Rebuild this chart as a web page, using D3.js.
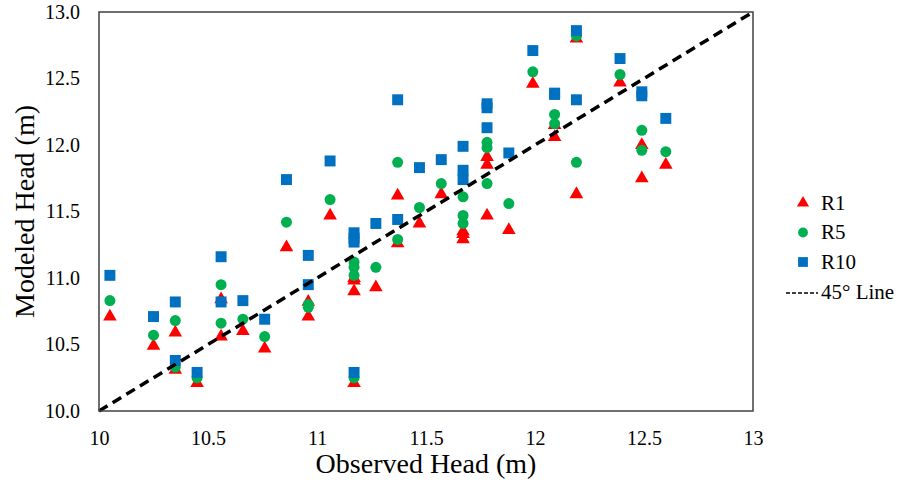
<!DOCTYPE html>
<html>
<head>
<meta charset="utf-8">
<script src="https://cdn.jsdelivr.net/npm/d3@7"></script>
<style>
  body { margin: 0; background: #fff; }
  svg { display: block; }
  text { font-family: "Liberation Serif", "Times New Roman", serif; }
</style>
</head>
<body>
<svg width="899" height="484"></svg>
<script>
// observed head per well (x)
const observed = [10.05, 10.25, 10.35, 10.35, 10.45, 10.56, 10.56, 10.66, 10.76, 10.86,
  10.96, 10.96, 11.06, 11.17, 11.17, 11.17, 11.17, 11.27, 11.37, 11.37,
  11.47, 11.57, 11.67, 11.67, 11.67, 11.78, 11.78, 11.78, 11.88, 11.99,
  12.09, 12.09, 12.19, 12.19, 12.39, 12.49, 12.49, 12.60];
// modeled head per run
const r1 = [10.71, 10.49, 10.59, 10.31, 10.21, 10.84, 10.56, 10.60, 10.47, 11.23,
  10.82, 10.71, 11.47, 11.00, 10.98, 10.90, 10.21, 10.93, 11.62, 11.26,
  11.41, 11.63, 11.33, 11.35, 11.29, 11.91, 11.85, 11.47, 11.36, 12.46,
  12.15, 12.06, 12.80, 11.63, 12.47, 12.00, 11.75, 11.85];
const r5 = [10.83, 10.57, 10.68, 10.33, 10.25, 10.95, 10.66, 10.69, 10.56, 11.42,
  10.80, 10.78, 11.59, 11.12, 11.08, 11.02, 10.25, 11.08, 11.87, 11.29,
  11.53, 11.71, 11.61, 11.47, 11.41, 12.02, 11.98, 11.71, 11.56, 12.55,
  12.23, 12.16, 12.82, 11.87, 12.53, 12.11, 11.96, 11.95];
const r10 = [11.02, 10.71, 10.82, 10.38, 10.29, 11.16, 10.82, 10.83, 10.69, 11.74,
  11.17, 10.95, 11.88, 11.34, 11.30, 11.27, 10.29, 11.41, 12.34, 11.44,
  11.83, 11.89, 11.99, 11.81, 11.74, 12.31, 12.28, 12.13, 11.94, 12.71,
  12.39, 12.38, 12.86, 12.34, 12.65, 12.40, 12.37, 12.20];

const xTicks = [10, 10.5, 11, 11.5, 12, 12.5, 13];
const yTicks = [10, 10.5, 11, 11.5, 12, 12.5, 13];

const series = [
  {name: 'R1', values: r1, color: '#FF0000', symbol: d3.symbolTriangle, size: 80},
  {name: 'R5', values: r5, color: '#00B050', symbol: d3.symbolCircle, size: 95},
  {name: 'R10', values: r10, color: '#0070C0', symbol: d3.symbolSquare, size: 120}
];

const font = '"Liberation Serif", "Times New Roman", serif';
const svg = d3.select('svg');
const margin = {top: 12, right: 146, bottom: 73, left: 99};
const width = +svg.attr('width');
const height = +svg.attr('height');
const innerWidth = width - margin.left - margin.right;
const innerHeight = height - margin.top - margin.bottom;

const x = d3.scaleLinear().domain([10, 13]).range([0, innerWidth]);
const y = d3.scaleLinear().domain([10, 13]).range([innerHeight, 0]);

const g = svg.append('g').attr('transform', `translate(${margin.left},${margin.top})`);

// assen zonder streepjes
const xAxis = g.append('g')
  .attr('transform', `translate(0,${innerHeight})`)
  .call(d3.axisBottom(x).tickValues(xTicks).tickSize(0).tickPadding(20).tickFormat(d3.format('')));
const yAxis = g.append('g')
  .call(d3.axisLeft(y).tickValues(yTicks).tickSize(0).tickPadding(19).tickFormat(d3.format('.1f')));
[xAxis, yAxis].forEach(a => {
  a.select('.domain').remove();
  a.attr('font-family', font).attr('font-size', 20);
  a.selectAll('text').attr('font-family', font).attr('font-size', 20).attr('fill', '#000');
});

// punten
series.forEach(s => {
  g.append('g').selectAll('path').data(observed)
    .enter().append('path')
    .attr('d', d3.symbol().type(s.symbol).size(s.size))
    .attr('transform', (d, i) => `translate(${x(d)},${y(s.values[i])})`)
    .attr('fill', s.color);
});

// 45 graden lijn
g.append('line')
  .attr('x1', x(10)).attr('y1', y(10))
  .attr('x2', x(13)).attr('y2', y(13))
  .attr('stroke', '#000').attr('stroke-width', 3.5)
  .attr('stroke-dasharray', '10,6');

// kader
g.append('rect')
  .attr('width', innerWidth).attr('height', innerHeight)
  .attr('fill', 'none').attr('stroke', '#404040').attr('stroke-width', 1.5);

// as titels
svg.append('text')
  .attr('x', margin.left + innerWidth / 2).attr('y', 473)
  .attr('text-anchor', 'middle').attr('font-family', font).attr('font-size', 28)
  .text('Observed Head (m)');
svg.append('text')
  .attr('transform', `translate(34,${margin.top + innerHeight / 2}) rotate(-90)`)
  .attr('text-anchor', 'middle').attr('font-family', font).attr('font-size', 28)
  .text('Modeled Head (m)');

// legenda
const legend = svg.append('g').attr('transform', 'translate(803,203)');
series.forEach((s, i) => {
  const row = legend.append('g').attr('transform', `translate(0,${i * 29.5})`);
  row.append('path')
    .attr('d', d3.symbol().type(s.symbol).size(s.size * 0.8))
    .attr('fill', s.color);
  row.append('text').attr('x', 18).attr('y', 6.5)
    .attr('font-family', font).attr('font-size', 21).text(s.name);
});
const lrow = legend.append('g').attr('transform', 'translate(0,89)');
lrow.append('line')
  .attr('x1', -17).attr('x2', 15).attr('y1', 1).attr('y2', 1)
  .attr('stroke', '#000').attr('stroke-width', 1.3).attr('stroke-dasharray', '4,2');
lrow.append('text').attr('x', 18).attr('y', 6.5)
  .attr('font-family', font).attr('font-size', 21).text('45° Line');
</script>
</body>
</html>
